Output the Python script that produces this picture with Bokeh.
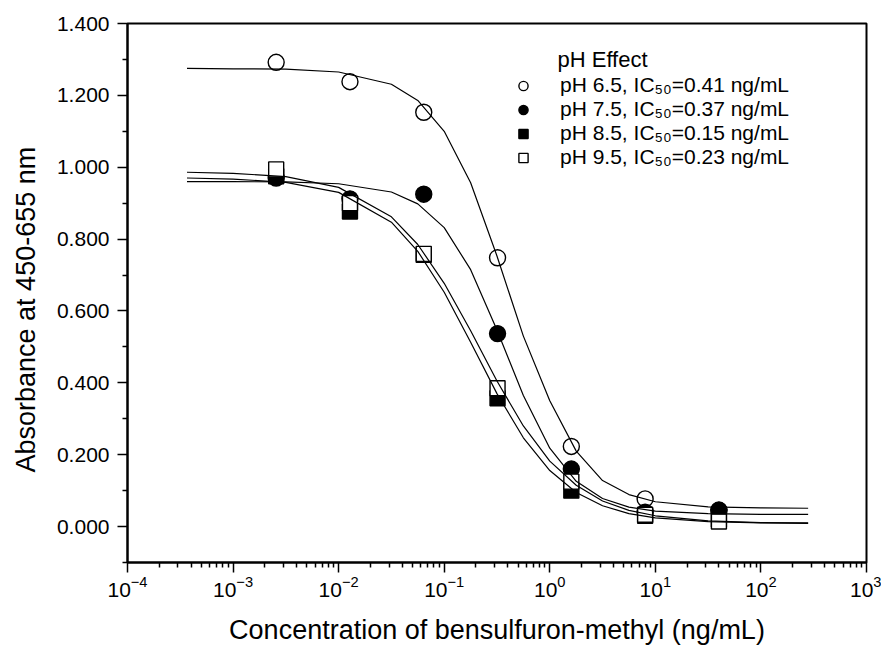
from bokeh.plotting import figure
from bokeh.models import (Range1d, FixedTicker, NumeralTickFormatter,
                          Legend, LegendItem, Label, Title)
from bokeh.embed import file_html
from bokeh.resources import INLINE

# ---- data ----
conc = [0.00256, 0.0128, 0.064, 0.32, 1.6, 8.0, 40.0]
ph65 = [1.292, 1.238, 1.153, 0.748, 0.223, 0.077, 0.045]
ph75 = [0.970, 0.912, 0.925, 0.537, 0.160, 0.040, 0.046]
ph85 = [0.975, 0.877, 0.756, 0.357, 0.100, 0.030, 0.020]
ph95 = [0.994, 0.900, 0.759, 0.385, 0.125, 0.033, 0.014]

fit_conc = [0.000366, 0.001, 0.00316, 0.01, 0.0316, 0.0562, 0.1, 0.178, 0.316,
            0.562, 1.0, 1.78, 3.16, 5.62, 10.0, 31.6, 100.0, 280.0]
fit65 = [1.275, 1.274, 1.273, 1.265, 1.231, 1.186, 1.100, 0.957, 0.753,
         0.530, 0.350, 0.210, 0.128, 0.089, 0.069, 0.055, 0.052, 0.051]
fit75 = [0.960, 0.960, 0.959, 0.954, 0.931, 0.898, 0.832, 0.715, 0.547,
         0.365, 0.218, 0.126, 0.078, 0.054, 0.043, 0.036, 0.034, 0.034]
fit85 = [0.970, 0.967, 0.958, 0.930, 0.847, 0.766, 0.652, 0.513, 0.370,
         0.247, 0.156, 0.095, 0.058, 0.036, 0.024, 0.014, 0.010, 0.009]
fit95 = [0.986, 0.983, 0.974, 0.944, 0.862, 0.785, 0.677, 0.545, 0.405,
         0.280, 0.182, 0.115, 0.071, 0.045, 0.030, 0.016, 0.011, 0.010]

labels = ["pH 6.5, IC\u2085\u2080=0.41 ng/mL",
          "pH 7.5, IC\u2085\u2080=0.37 ng/mL",
          "pH 8.5, IC\u2085\u2080=0.15 ng/mL",
          "pH 9.5, IC\u2085\u2080=0.23 ng/mL"]
legend_title = "pH Effect"
x_ticks = [1e-4, 1e-3, 1e-2, 1e-1, 1e0, 1e1, 1e2, 1e3]
y_ticks = [0.0, 0.2, 0.4, 0.6, 0.8, 1.0, 1.2, 1.4]
y_minor = [-0.1, 0.1, 0.3, 0.5, 0.7, 0.9, 1.1, 1.3]
x_label = "Concentration of bensulfuron-methyl (ng/mL)"
y_label = "Absorbance at 450-655 nm"

FONT = "Liberation Sans"

p = figure(width=881, height=648, x_axis_type="log",
           x_range=Range1d(1e-4, 1e3), y_range=Range1d(-0.1, 1.4),
           output_backend="svg", toolbar_location=None,
           min_border_left=127, min_border_right=15, min_border_top=23, min_border_bottom=86)
p.grid.visible = False
p.background_fill_color = "white"
p.border_fill_color = "white"
p.outline_line_color = "black"
p.outline_line_width = 2

# markers
r1 = p.scatter(conc, ph65, marker="circle", size=16, fill_color="white", line_color="black", line_width=1.4)
r2 = p.scatter(conc, ph75, marker="circle", size=16, fill_color="black", line_color="black", line_width=1.4)
r3 = p.scatter(conc, ph85, marker="square", size=15, fill_color="black", line_color="black", line_width=1.4)
r4 = p.scatter(conc, ph95, marker="square", size=15, fill_color="white", line_color="black", line_width=1.4)

# fitted curves
for f in (fit65, fit75, fit85, fit95):
    p.line(fit_conc, f, line_color="black", line_width=1.2)

# axes
minor = [k * t for t in x_ticks[:-1] for k in range(2, 10)]
p.xaxis.ticker = FixedTicker(ticks=x_ticks, minor_ticks=minor)
p.yaxis.ticker = FixedTicker(ticks=y_ticks, minor_ticks=y_minor)
p.yaxis.formatter = NumeralTickFormatter(format="0.000")
for ax in (p.xaxis, p.yaxis):
    ax.axis_line_width = 2
    ax.major_tick_line_width = 1.5
    ax.minor_tick_line_width = 1.5
    ax.major_tick_in = 0
    ax.major_tick_out = 10
    ax.minor_tick_in = 0
    ax.minor_tick_out = 5
    ax.major_label_text_font = FONT
    ax.major_label_text_font_size = "21px"
    ax.major_label_text_color = "black"
    ax.axis_label_text_font = FONT
    ax.axis_label_text_font_size = "27px"
    ax.axis_label_text_font_style = "normal"
    ax.axis_label_text_color = "black"
    ax.major_label_standoff = 8
p.xaxis.major_label_standoff = 3
p.xaxis.axis_label = x_label
p.xaxis.axis_label_standoff = 15

# y-axis title, set slightly below the frame's centre as in the reference
p.add_layout(Title(text=y_label, align="left", offset=90, vertical_align="top",
                   standoff=21, text_font=FONT, text_font_size="27px",
                   text_font_style="normal", text_color="black"), "left")

legend = Legend(items=[LegendItem(label=labels[0], renderers=[r1]),
                       LegendItem(label=labels[1], renderers=[r2]),
                       LegendItem(label=labels[2], renderers=[r3]),
                       LegendItem(label=labels[3], renderers=[r4])],
                location=(381, 393), glyph_width=30, glyph_height=23, spacing=0,
                label_standoff=22, padding=0, margin=0, border_line_color=None,
                background_fill_alpha=0, label_text_font=FONT, label_text_font_size="21px",
                label_height=23, label_text_color="black")
p.add_layout(legend)
p.add_layout(Label(x=430, y=503, x_units="screen", y_units="screen", text=legend_title,
                   text_font=FONT, text_font_size="22px", text_baseline="middle",
                   text_align="left", text_color="black"))

open("out.html", "w").write(file_html(p, INLINE))
